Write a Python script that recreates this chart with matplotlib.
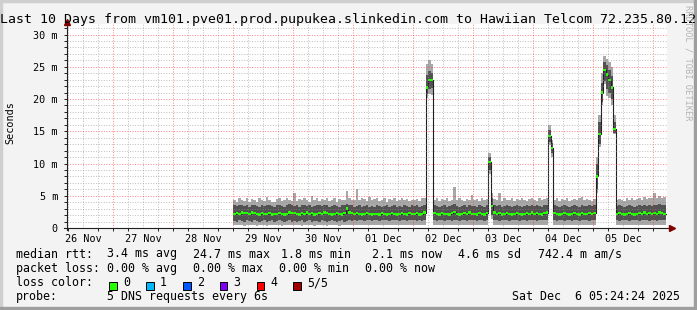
import numpy as np
import matplotlib
matplotlib.use('Agg')
import matplotlib.pyplot as plt
import matplotlib.dates as mdates
from matplotlib.patches import Rectangle
from datetime import datetime, timedelta

plt.rcParams['font.family'] = 'DejaVu Sans Mono'

W, H = 697, 310

# ---- data: hourly samples, first sample 29 Nov 00:00 (values in ms) ----
data_start = datetime(2025, 11, 29, 0, 0)

median = [
    2.2, 2.3, 2.2, 2.4, 2.3, 2.3, 2.2, 2.4, 2.3, 2.2, 2.1, 2.3, 2.2, 2.2, 2.3, 2.1, 2.2, 2.2, 2.3, 2.2, 2.1, 2.2, 2.4, 2.3,
    2.3, 2.2, 2.1, 2.3, 2.2, 2.4, 2.2, 2.3, 2.1, 2.2, 2.3, 2.2, 2.4, 2.3, 2.2, 2.1, 2.2, 2.3, 2.2, 2.1, 2.3, 3.0, 2.4, 2.3,
    2.2, 2.3, 2.2, 2.1, 2.2, 2.3, 2.2, 2.1, 2.2, 2.2, 2.1, 2.3, 2.2, 2.1, 2.2, 2.3, 2.2, 2.1, 2.2, 2.3, 2.2, 2.1, 2.3, 2.2,
    2.2, 2.3, 2.1, 2.2, 2.4, 21.8, 22.9, 23.0, 2.3, 2.2, 2.1, 2.3, 2.2, 2.2, 2.1, 2.3, 2.5, 2.2, 2.1, 2.2, 2.3, 2.2, 2.4, 2.2,
    2.2, 2.1, 2.3, 2.2, 2.1, 2.3, 10.2, 3.4, 2.4, 2.2, 2.3, 2.1, 2.2, 2.3, 2.2, 2.1, 2.2, 2.3, 2.2, 2.1, 2.2, 2.3, 2.2, 2.4,
    2.2, 2.3, 2.2, 2.1, 2.3, 2.4, 14.3, 12.4, 2.3, 2.2, 2.1, 2.2, 2.3, 2.2, 2.1, 2.2, 2.3, 2.2, 2.1, 2.3, 2.2, 2.2, 2.3, 2.2,
    2.3, 8.0, 14.6, 21.0, 24.5, 23.8, 23.0, 21.8, 15.3, 2.2, 2.3, 2.2, 2.1, 2.2, 2.3, 2.2, 2.1, 2.2, 2.3, 2.2, 2.4, 2.2, 2.3, 2.2,
    2.3, 2.2, 2.4, 2.3, 2.2,
]
inner_hi = [
    3.5, 3.4, 3.5, 3.6, 3.4, 3.5, 3.3, 3.5, 3.6, 3.4, 3.3, 3.5, 3.4, 3.5, 3.6, 3.4, 3.3, 3.5, 3.6, 3.4, 3.3, 3.5, 3.7, 3.5,
    3.4, 3.5, 3.3, 3.5, 3.6, 3.4, 3.5, 3.3, 3.4, 3.6, 3.5, 3.4, 3.5, 3.6, 3.3, 3.4, 3.5, 3.4, 3.3, 3.5, 3.6, 3.7, 3.6, 3.5,
    3.3, 3.4, 3.5, 3.3, 3.4, 3.5, 3.3, 3.4, 3.3, 3.5, 3.4, 3.3, 3.4, 3.5, 3.3, 3.4, 3.5, 3.3, 3.4, 3.3, 3.5, 3.4, 3.3, 3.5,
    3.4, 3.5, 3.3, 3.4, 3.6, 23.8, 24.3, 24.0, 3.5, 3.4, 3.3, 3.4, 3.5, 3.3, 3.4, 3.5, 3.7, 3.4, 3.3, 3.4, 3.5, 3.3, 3.6, 3.4,
    3.4, 3.3, 3.5, 3.4, 3.3, 3.5, 11.0, 4.6, 3.6, 3.4, 3.5, 3.3, 3.4, 3.5, 3.4, 3.3, 3.4, 3.5, 3.4, 3.3, 3.4, 3.5, 3.4, 3.6,
    3.4, 3.5, 3.4, 3.3, 3.5, 3.6, 15.2, 13.2, 3.5, 3.4, 3.3, 3.4, 3.5, 3.4, 3.3, 3.4, 3.5, 3.4, 3.3, 3.5, 3.4, 3.4, 3.5, 3.4,
    3.5, 10.0, 16.5, 22.5, 25.8, 25.2, 24.5, 23.5, 16.5, 3.4, 3.5, 3.4, 3.3, 3.4, 3.5, 3.4, 3.3, 3.4, 3.5, 3.4, 3.6, 3.4, 3.5, 3.4,
    3.6, 3.5, 3.7, 3.6, 3.5,
]
inner_lo = [
    1.1, 1.0, 1.2, 1.1, 1.0, 1.2, 1.1, 1.0, 1.2, 1.1, 1.0, 1.1, 1.2, 1.0, 1.1, 1.2, 1.0, 1.1, 1.2, 1.1, 1.0, 1.1, 1.2, 1.0,
    1.1, 1.0, 1.1, 1.2, 1.0, 1.1, 1.2, 1.0, 1.1, 1.1, 1.0, 1.2, 1.1, 1.0, 1.1, 1.2, 1.1, 1.0, 1.1, 1.2, 1.0, 1.1, 1.2, 1.1,
    1.2, 1.1, 1.2, 1.3, 1.1, 1.2, 1.2, 1.1, 1.3, 1.2, 1.1, 1.2, 1.3, 1.2, 1.1, 1.2, 1.2, 1.3, 1.1, 1.2, 1.2, 1.1, 1.2, 1.3,
    1.2, 1.1, 1.2, 1.1, 1.3, 20.8, 21.6, 21.7, 1.2, 1.1, 1.2, 1.3, 1.1, 1.2, 1.2, 1.1, 1.2, 1.3, 1.1, 1.2, 1.2, 1.1, 1.2, 1.3,
    1.2, 1.1, 1.2, 1.3, 1.1, 1.2, 9.0, 2.0, 1.3, 1.2, 1.1, 1.2, 1.3, 1.2, 1.1, 1.2, 1.2, 1.3, 1.1, 1.2, 1.2, 1.1, 1.3, 1.2,
    1.2, 1.1, 1.2, 1.3, 1.2, 1.2, 13.3, 11.6, 1.2, 1.1, 1.2, 1.3, 1.1, 1.2, 1.2, 1.1, 1.3, 1.2, 1.1, 1.2, 1.2, 1.3, 1.1, 1.2,
    1.2, 6.0, 13.0, 19.5, 22.8, 21.5, 21.0, 20.0, 14.8, 1.2, 1.1, 1.2, 1.3, 1.2, 1.1, 1.2, 1.3, 1.2, 1.1, 1.2, 1.2, 1.3, 1.1, 1.2,
    1.2, 1.1, 1.2, 1.3, 1.2,
]
outer_hi = [
    4.3, 4.1, 4.6, 4.4, 4.2, 4.7, 4.0, 4.5, 4.4, 4.1, 4.6, 4.3, 4.2, 4.8, 4.4, 4.1, 4.0, 4.5, 4.6, 4.2, 4.3, 4.7, 4.4, 4.2,
    5.4, 4.2, 4.5, 4.3, 4.6, 4.4, 4.1, 4.9, 4.3, 4.6, 4.2, 4.5, 4.3, 4.7, 4.2, 4.4, 4.6, 4.1, 4.5, 4.3, 4.4, 5.8, 4.6, 4.3,
    4.4, 6.0, 4.3, 4.6, 4.5, 4.2, 4.8, 4.3, 4.5, 4.7, 4.2, 4.4, 4.6, 4.1, 4.5, 4.3, 4.7, 4.2, 4.4, 4.6, 4.3, 4.5, 4.2, 4.4,
    4.3, 4.5, 4.2, 4.6, 4.7, 25.5, 26.0, 25.4, 4.4, 4.6, 4.2, 4.5, 4.3, 4.7, 4.2, 4.4, 6.4, 4.3, 4.6, 4.4, 4.2, 4.5, 4.4, 5.1,
    4.3, 4.5, 4.2, 4.6, 4.3, 4.5, 11.7, 5.4, 4.5, 4.3, 5.4, 4.2, 4.6, 4.4, 4.3, 4.7, 4.2, 4.5, 4.3, 4.6, 4.4, 4.2, 4.5, 4.6,
    4.4, 4.2, 4.6, 4.3, 4.5, 4.6, 15.9, 13.7, 4.4, 4.6, 4.2, 4.5, 4.3, 4.7, 4.2, 4.4, 4.5, 4.3, 4.6, 4.8, 4.3, 4.5, 4.4, 4.2,
    4.5, 11.0, 17.5, 24.0, 26.7, 26.2, 25.7, 25.0, 17.5, 4.3, 4.5, 4.4, 4.2, 4.6, 4.4, 4.7, 4.3, 4.5, 4.6, 4.4, 4.8, 4.5, 4.7, 4.6,
    5.4, 4.7, 4.9, 4.6, 4.8,
]
outer_lo = [
    0.5, 0.4, 0.5, 0.4, 0.3, 0.5, 0.4, 0.4, 0.5, 0.3, 0.4, 0.5, 0.4, 0.3, 0.5, 0.4, 0.4, 0.5, 0.4, 0.3, 0.4, 0.5, 0.4, 0.4,
    0.4, 0.5, 0.4, 0.3, 0.5, 0.4, 0.4, 0.5, 0.3, 0.4, 0.5, 0.4, 0.4, 0.3, 0.5, 0.4, 0.4, 0.5, 0.3, 0.4, 0.5, 0.4, 0.4, 0.5,
    0.5, 0.4, 0.5, 0.4, 0.5, 0.5, 0.4, 0.5, 0.4, 0.5, 0.5, 0.4, 0.5, 0.5, 0.4, 0.5, 0.4, 0.5, 0.5, 0.4, 0.5, 0.5, 0.4, 0.5,
    0.5, 0.4, 0.5, 0.5, 0.4, 20.2, 20.8, 20.6, 0.5, 0.4, 0.5, 0.5, 0.4, 0.5, 0.4, 0.5, 0.5, 0.4, 0.5, 0.5, 0.4, 0.5, 0.5, 0.4,
    0.5, 0.4, 0.5, 0.5, 0.4, 0.5, 8.3, 1.4, 0.5, 0.5, 0.4, 0.5, 0.4, 0.5, 0.5, 0.4, 0.5, 0.5, 0.4, 0.5, 0.5, 0.4, 0.5, 0.5,
    0.5, 0.4, 0.5, 0.5, 0.4, 0.5, 12.8, 11.0, 0.5, 0.4, 0.5, 0.5, 0.4, 0.5, 0.5, 0.4, 0.5, 0.5, 0.4, 0.5, 0.5, 0.4, 0.5, 0.5,
    0.5, 5.5, 12.5, 19.0, 22.3, 20.5, 20.1, 19.0, 14.5, 0.5, 0.4, 0.5, 0.5, 0.4, 0.5, 0.5, 0.4, 0.5, 0.5, 0.4, 0.5, 0.5, 0.4, 0.5,
    0.5, 0.4, 0.5, 0.5, 0.4,
]

day_labels = ['26 Nov', '27 Nov', '28 Nov', '29 Nov', '30 Nov',
              '01 Dec', '02 Dec', '03 Dec', '04 Dec', '05 Dec']
y_ticks = [0, 5, 10, 15, 20, 25, 30]
y_labels = ['0', '5 m', '10 m', '15 m', '20 m', '25 m', '30 m']

loss_labels = ['0', '1', '2', '3', '4', '5/5']
loss_colors = ['#26ff00', '#00b8ff', '#0059ff', '#7e00ff', '#ff0000', '#a10000']

legend_rows = [
    [('median rtt:', 16), ('3.4 ms avg', 107), ('24.7 ms max', 193), ('1.8 ms min', 281),
     ('2.1 ms now', 372), ('4.6 ms sd', 458), ('742.4 m am/s', 538)],
    [('packet loss:', 16), ('0.00 % avg', 107), ('0.00 % max', 193), ('0.00 % min', 279),
     ('0.00 % now', 365)],
]

t_start = datetime(2025, 11, 26, 5, 24, 24)
t_end = datetime(2025, 12, 6, 5, 24, 24)

# colours
BACK = '#f3f3f3'
SHADEA = '#cfcfcf'
SHADEB = '#9e9e9e'
LIGHT = '#a8a8a8'
DARK = '#525252'
ARROW = '#800000'

fig = plt.figure(figsize=(W / 100, H / 100), dpi=100, facecolor=BACK)
ax = fig.add_axes([67 / W, (H - 228) / H, 600 / W, 203.8 / H])
ax.set_facecolor('white')

n = len(median)
edges = mdates.date2num([data_start + timedelta(hours=k) for k in range(n + 1)])


def ext(a):
    a = np.asarray(a, dtype=float)
    return np.append(a, a[-1])


m = ext(median)
ax.fill_between(edges, ext(outer_lo), ext(outer_hi), step='post', color=LIGHT, lw=0, zorder=2)
ax.fill_between(edges, ext(inner_lo), ext(inner_hi), step='post', color=DARK, lw=0, zorder=3)
ax.step(edges, m, where='post', color='#202020', lw=0.8, zorder=4)
ax.fill_between(edges, m - 0.18, m + 0.18, step='post', color=loss_colors[0], lw=0, zorder=5)

ax.set_xlim(mdates.date2num(t_start), mdates.date2num(t_end))
ax.set_ylim(0, 31.6)

# grid: gray every 6h / 1 m, red every day / 5 m (drawn over the data, like rrdtool)
grid_kw = dict(lw=0.72, linestyle=(0, (1, 1.6)), zorder=6)
minor_col = dict(color='#8c8c8c', alpha=0.55)
major_col = dict(color='#ff2020', alpha=0.55)
six_h = [datetime(2025, 11, 26, 6) + timedelta(hours=6 * k) for k in range(40)]
for t in six_h:
    if t.hour != 0:
        ax.axvline(mdates.date2num(t), **minor_col, **grid_kw)
for v in range(1, 32):
    if v % 5:
        ax.axhline(v, **minor_col, **grid_kw)
for d in range(10):
    ax.axvline(mdates.date2num(datetime(2025, 11, 27) + timedelta(days=d)), **major_col, **grid_kw)
for v in y_ticks[1:]:
    ax.axhline(v, **major_col, **grid_kw)

# ticks
ax.set_yticks(y_ticks)
ax.set_yticklabels(y_labels)
ax.set_yticks(range(0, 32), minor=True)
noons = [datetime(2025, 11, 26, 12) + timedelta(days=d) for d in range(len(day_labels))]
ax.set_xticks(mdates.date2num(noons))
ax.set_xticklabels(day_labels)
ax.set_xticks(mdates.date2num(six_h), minor=True)
ax.tick_params(axis='y', which='both', direction='out', length=2, width=0.7,
               color='#202020', labelsize=7.3, pad=4.5)
ax.tick_params(axis='x', which='major', length=0, labelsize=7.3, pad=4.5)
ax.tick_params(axis='x', which='minor', direction='out', length=2, width=0.7, color='#202020')
for s in ax.spines.values():
    s.set_visible(False)

# axis lines with arrows
ax.plot([0, 0], [-0.012, 1.005], transform=ax.transAxes, color='#202020', lw=0.8,
        clip_on=False, zorder=7)
ax.plot([-0.005, 1.008], [0, 0], transform=ax.transAxes, color='#202020', lw=0.8,
        clip_on=False, zorder=7)
ax.plot([0], [1.01], marker='^', ms=4.5, color=ARROW, transform=ax.transAxes, clip_on=False, zorder=8)
ax.plot([1.0075], [0], marker='>', ms=4.5, color=ARROW, transform=ax.transAxes, clip_on=False, zorder=8)


def ftext(x, y, s, **kw):
    fig.text(x / W, 1 - y / H, s, **kw)


# title (runs into the watermark column, as in the original), unit, watermark
ftext(0, 19, 'Last 10 Days from vm101.pve01.prod.pupukea.slinkedin.com to Hawiian Telcom 72.235.80.12',
      fontsize=9.55, ha='left', va='center')
ftext(10, 123, 'Seconds', fontsize=7.3, rotation=90, ha='center', va='center')
ftext(688, 5, 'RRDTOOL / TOBI OETIKER', fontsize=6.3, rotation=-90, ha='center', va='top',
      color='#b4b4b4')

# legend
row_y = [254, 268.3, 282.5, 296.7]
for row, y in zip(legend_rows, row_y):
    for s, x in row:
        ftext(x, y, s, fontsize=8.4, ha='left', va='center')
ftext(16, row_y[2], 'loss color:', fontsize=8.4, ha='left', va='center')
box_x = [109, 146, 183, 219.5, 256.5, 293]
for bx, lbl, col in zip(box_x, loss_labels, loss_colors):
    fig.patches.append(Rectangle((bx / W, 1 - 289.5 / H), 7.5 / W, 7.5 / H, facecolor=col,
                                 edgecolor='black', lw=0.7, transform=fig.transFigure))
    ftext(bx + 14, row_y[2], lbl, fontsize=8.4, ha='left', va='center')
ftext(16, row_y[3], 'probe:', fontsize=8.4, ha='left', va='center')
ftext(107, row_y[3], '5 DNS requests every 6s', fontsize=8.4, ha='left', va='center')
ftext(680, row_y[3], 'Sat Dec  6 05:24:24 2025', fontsize=8.4, ha='right', va='center')

# 3D frame
fig.patches.append(Rectangle((0, 1 - 2 / H), 1, 2 / H, color=SHADEA, transform=fig.transFigure))
fig.patches.append(Rectangle((0, 0), 2 / W, 1, color=SHADEA, transform=fig.transFigure))
fig.patches.append(Rectangle((0, 0), 1, 3 / H, color=SHADEB, transform=fig.transFigure))
fig.patches.append(Rectangle((1 - 3 / W, 0), 3 / W, 1, color=SHADEB, transform=fig.transFigure))

fig.savefig('out.png', dpi=100, facecolor=BACK)
